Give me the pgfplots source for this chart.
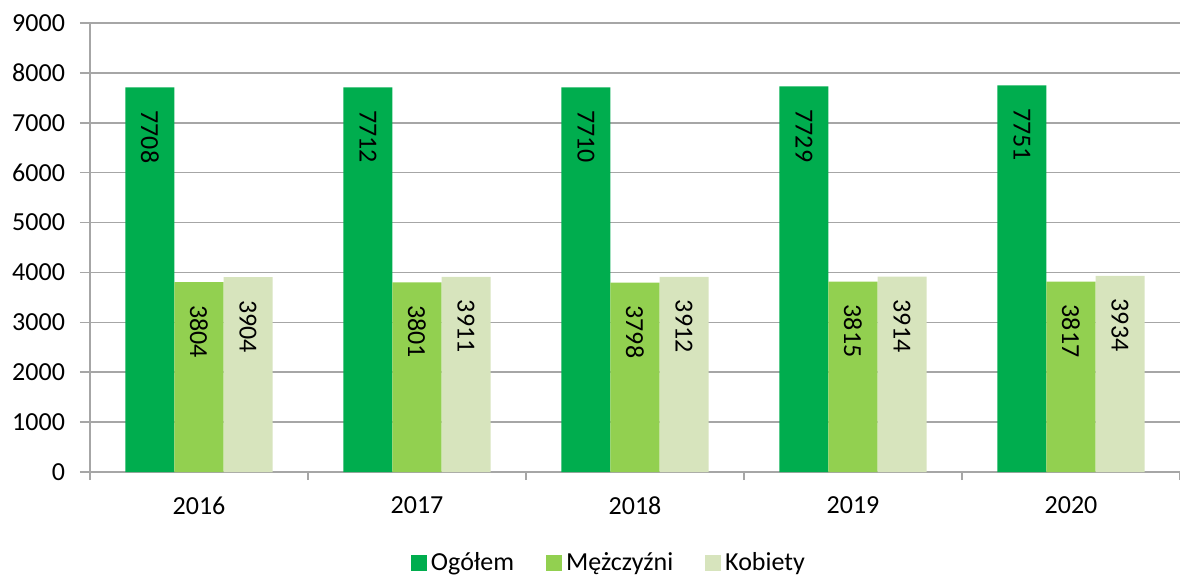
\documentclass[border=0pt]{standalone}
\usepackage{fontspec}
\setmainfont{Carlito}
\usepackage{pgfplots}
\pgfplotsset{compat=1.18}
\definecolor{ogolem}{HTML}{00AD4E}
\definecolor{mezczyzni}{HTML}{92D050}
\definecolor{kobiety}{HTML}{D7E4BD}
\definecolor{gridgray}{HTML}{A6A6A6}

\begin{document}
\begin{tikzpicture}
\useasboundingbox (-45pt,-51.5pt) rectangle (545pt,236pt);
\begin{axis}[
  at={(0,0)}, anchor=south west,
  scale only axis, width=545pt, height=224.5pt,
  font=\fontsize{13}{15}\selectfont,
  ybar=0pt, bar width=0.225,
  xmin=-0.5, xmax=4.5, ymin=0, ymax=9000,
  ytick={0,1000,...,9000},
  xtick={0,1,2,3,4}, xticklabels={2016,2017,2018,2019,2020},
  minor xtick={-0.5,0.5,1.5,2.5,3.5,4.5},
  major x tick style={draw=none},
  tick align=outside, major tick length=5pt, minor tick length=4pt,
  tick style={gridgray, line width=0.8pt},
  axis x line*=bottom, axis y line*=left,
  axis line style={gridgray, line width=0.8pt},
  ymajorgrids, grid style={gridgray, line width=0.8pt},
  xticklabel style={yshift=-4pt},
  yticklabel style={xshift=-4pt},
  /pgf/number format/1000 sep={},
  /pgf/number format/assume math mode=true,
  nodes near coords,
  nodes near coords align={anchor=west},
  every node near coord/.append style={rotate=-90, anchor=west, xshift=8pt, font=\fontsize{13}{15}\selectfont, text=black},
  legend style={at={(0.477,-0.203)}, anchor=center, legend columns=3, draw=none,
    font=\fontsize{13}{15}\selectfont,
    /tikz/every even column/.append style={column sep=14pt}},
  legend image code/.code={\fill[#1] (0pt,-4pt) rectangle (8pt,4pt);},
]
\addplot[fill=ogolem, draw=none] coordinates {(0,7708) (1,7712) (2,7710) (3,7729) (4,7751)};
\addplot[fill=mezczyzni, draw=none] coordinates {(0,3804) (1,3801) (2,3798) (3,3815) (4,3817)};
\addplot[fill=kobiety, draw=none] coordinates {(0,3904) (1,3911) (2,3912) (3,3914) (4,3934)};
\legend{Ogółem, Mężczyźni, Kobiety}
\end{axis}
\end{tikzpicture}
\end{document}
